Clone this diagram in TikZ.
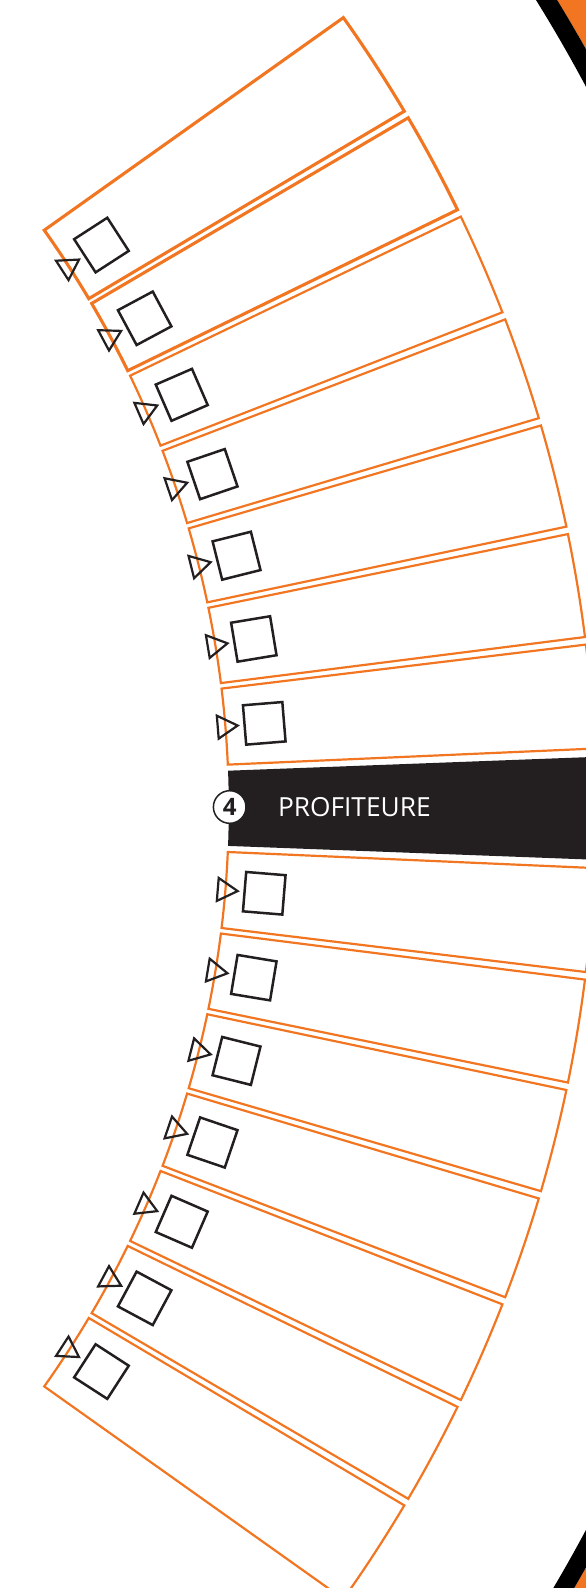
\documentclass[tikz,border=0pt]{standalone}
\usepackage{fontspec}
\setmainfont{Open Sans}
\usetikzlibrary{calc}
\definecolor{orng}{RGB}{242,118,33}
\definecolor{ink}{RGB}{35,31,32}
\tikzset{
  segline/.style={draw=orng, line width=2.2pt},
  segthick/.style={draw=orng, line width=3.1pt},
  checkbox/.style={draw=ink, line width=2.5pt, minimum size=39.5pt, inner sep=0pt, fill=none},
  marker/.style={draw=ink, line width=2.2pt, line join=miter},
}
\begin{document}
\begin{tikzpicture}[x=1pt,y=1pt]
\useasboundingbox (0,0) rectangle (586,-1588);
\clip (0,0) rectangle (586,-1588);
\coordinate (C) at (-769.2,-808.3);
% outer ring
\fill[orng, even odd rule] (C) circle[radius=1553] (C) circle[radius=1900];
\fill[black, even odd rule] (C) circle[radius=1535] (C) circle[radius=1553];
% segments
\foreach \k in {-7,...,-1,1,2,...,7}{
  \pgfmathsetmacro{\t}{-\k*4.7}
  \pgfmathsetmacro{\aa}{\t-2.19}
  \pgfmathsetmacro{\ab}{\t+2.19}
  \ifnum\k=-7 \pgfmathsetmacro{\ab}{35.4}\fi
  \ifnum\k=7 \pgfmathsetmacro{\aa}{-35.4}\fi
  \ifnum\k<-5
    \tikzset{cur/.style={segthick}}
  \else
    \tikzset{cur/.style={segline}}
  \fi
  \draw[cur] ($(C)+(\aa:998)$) arc[start angle=\aa, end angle=\ab, radius=998]
     -- ($(C)+(\ab:1365)$) arc[start angle=\ab, end angle=\aa, radius=1365] -- cycle;
  \node[checkbox, rotate=\t] (sq\k) at ($(C)+(\t:1037)$) {};
  \coordinate (T\k) at ($(C)+(\t:997)$);
  \draw[marker] ($(T\k)+(\t:13.3)$) -- ($(T\k)+(\t+120:13.3)$) -- ($(T\k)+(\t-120:13.3)$) -- cycle;
}
% black segment
\fill[ink] ($(C)+(-2.16:998)$) arc[start angle=-2.16, end angle=2.16, radius=998]
   -- ($(C)+(2.16:1400)$) -- ($(C)+(-2.16:1400)$) -- cycle;
\node[circle, draw=ink, fill=white, line width=1.5pt, minimum size=32.6pt, inner sep=0pt,
      text=ink, font=\bfseries\fontsize{24}{24}\selectfont] (num) at (229.7,-807) {4};
\node[anchor=base west, inner sep=0pt, text=white, font=\fontsize{26.3}{26.3}\selectfont]
      (lbl) at (277.8,-816.7) {PROFITEURE};
\end{tikzpicture}
\end{document}
